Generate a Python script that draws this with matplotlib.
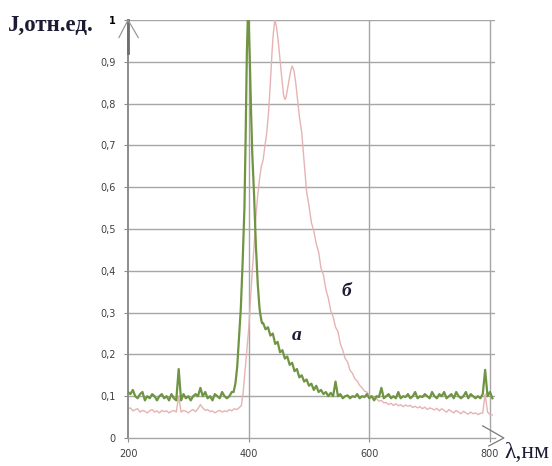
"""
Luminescence spectra a and b, normalised intensity vs wavelength.
Output: out.png
"""
import numpy as np
import matplotlib
matplotlib.use("Agg")
import matplotlib.pyplot as plt

# ---- data ------------------------------------------------------------
# curve "a" (green): flat background, narrow peak near 400 nm, slow tail
wl_a_base = np.arange(200, 373, 4)
j_a_base = [0.11, 0.105, 0.115, 0.10, 0.095, 0.105, 0.11, 0.09, 0.10, 0.095,
            0.105, 0.10, 0.09, 0.10, 0.105, 0.095, 0.10, 0.09, 0.105, 0.095,
            0.09, 0.165, 0.09, 0.105, 0.095, 0.10, 0.09, 0.10, 0.105, 0.10,
            0.12, 0.10, 0.11, 0.095, 0.10, 0.09, 0.105, 0.10, 0.095, 0.11,
            0.10, 0.095, 0.10, 0.11]
wl_a_peak = [375, 378, 381, 384, 387, 390, 393, 395, 397, 398.5,
             400, 402, 404, 406, 409, 412, 415, 418, 420, 422]
j_a_peak = [0.11, 0.13, 0.17, 0.24, 0.31, 0.42, 0.55, 0.72, 0.92, 1.0,
            1.0, 0.90, 0.78, 0.68, 0.58, 0.46, 0.37, 0.31, 0.29, 0.275]
wl_a_tail = np.arange(424, 805, 4)
j_a_tail = [0.275, 0.26, 0.265, 0.245, 0.25, 0.225, 0.23, 0.205, 0.21, 0.19,
            0.195, 0.175, 0.18, 0.16, 0.165, 0.145, 0.15, 0.135, 0.14, 0.125,
            0.13, 0.115, 0.125, 0.11, 0.115, 0.105, 0.11, 0.10, 0.108, 0.10,
            0.135, 0.10, 0.105, 0.095, 0.10, 0.102, 0.095, 0.10, 0.098, 0.105,
            0.095, 0.10, 0.098, 0.105, 0.095, 0.10, 0.09, 0.10, 0.098, 0.12,
            0.095, 0.10, 0.105, 0.095, 0.10, 0.095, 0.11, 0.095, 0.10, 0.098,
            0.105, 0.095, 0.10, 0.11, 0.095, 0.10, 0.098, 0.105, 0.10, 0.095,
            0.11, 0.10, 0.095, 0.105, 0.10, 0.11, 0.095, 0.10, 0.105, 0.095,
            0.11, 0.10, 0.095, 0.10, 0.11, 0.095, 0.105, 0.10, 0.095, 0.10,
            0.095, 0.105, 0.163, 0.10, 0.11, 0.095]

# curve "b" (pink): lower background, broad double peak 444 / 472 nm
wl_b_base = np.arange(200, 389, 4)
j_b_base = [0.07, 0.072, 0.065, 0.068, 0.07, 0.062, 0.066, 0.064, 0.06, 0.065,
            0.068, 0.062, 0.065, 0.06, 0.066, 0.063, 0.065, 0.06, 0.064, 0.066,
            0.062, 0.10, 0.062, 0.066, 0.064, 0.06, 0.065, 0.068, 0.063, 0.07,
            0.08, 0.072, 0.066, 0.068, 0.063, 0.065, 0.06, 0.064, 0.066, 0.062,
            0.065, 0.063, 0.068, 0.065, 0.07, 0.068, 0.072, 0.078]
wl_b_peak = [391, 394, 397, 400, 403, 406, 409, 412, 415, 418,
             421, 424, 427, 430, 433, 436, 439, 441, 443.5, 446,
             449, 452, 455, 458, 460, 462, 465, 468, 470, 472,
             475, 478, 481, 484, 488, 492, 496, 500, 504, 508,
             512, 516, 520, 524, 528, 532, 536, 540, 544, 548,
             552, 556, 560, 564, 568, 572, 576, 580, 584, 588,
             592, 596, 600, 604, 608, 612, 616, 620, 624]
j_b_peak = [0.11, 0.16, 0.21, 0.26, 0.33, 0.40, 0.46, 0.53, 0.58, 0.62,
            0.65, 0.665, 0.70, 0.73, 0.78, 0.85, 0.93, 0.97, 1.0, 0.985,
            0.95, 0.905, 0.86, 0.82, 0.81, 0.815, 0.84, 0.865, 0.88, 0.89,
            0.88, 0.85, 0.81, 0.77, 0.73, 0.66, 0.59, 0.555, 0.515, 0.495,
            0.465, 0.445, 0.405, 0.39, 0.355, 0.335, 0.305, 0.29, 0.265, 0.255,
            0.225, 0.21, 0.19, 0.182, 0.162, 0.155, 0.142, 0.136, 0.126, 0.12,
            0.112, 0.11, 0.102, 0.10, 0.093, 0.094, 0.088, 0.09, 0.084]
wl_b_tail = np.arange(628, 805, 4)
j_b_tail = [0.085, 0.08, 0.083, 0.078, 0.082, 0.077, 0.08, 0.075, 0.079, 0.076,
            0.078, 0.073, 0.076, 0.072, 0.075, 0.07, 0.074, 0.068, 0.072, 0.07,
            0.067, 0.071, 0.065, 0.07, 0.066, 0.062, 0.068, 0.064, 0.06, 0.066,
            0.062, 0.058, 0.064, 0.06, 0.057, 0.062, 0.058, 0.06, 0.056, 0.059,
            0.06, 0.105, 0.062, 0.056, 0.055]

wl_a = np.concatenate([wl_a_base, wl_a_peak, wl_a_tail])
j_a = np.concatenate([j_a_base, j_a_peak, j_a_tail])
wl_b = np.concatenate([wl_b_base, wl_b_peak, wl_b_tail])
j_b = np.concatenate([j_b_base, j_b_peak, j_b_tail])

x_ticks = [200, 400, 600, 800]
y_ticks = [0, 0.1, 0.2, 0.3, 0.4, 0.5, 0.6, 0.7, 0.8, 0.9, 1.0]
y_labels = ["0", "0,1", "0,2", "0,3", "0,4", "0,5", "0,6", "0,7", "0,8", "0,9", "1"]

GREEN = "#6f9442"
PINK = "#e6b3b3"
GRID = "#a6a6a6"
TEXT = "#1b1b33"

# ---- figure -----------------------------------------------------------
fig = plt.figure(figsize=(5.52, 4.66), dpi=100)
ax = fig.add_axes([128 / 552, 1 - 438 / 466, (494.8 - 128) / 552, (438 - 20) / 466])
ax.set_xlim(200, 808)
ax.set_ylim(0, 1)

for y in y_ticks[1:]:
    ax.axhline(y, color=GRID, lw=1.0, zorder=1)
for x in x_ticks[1:]:
    ax.axvline(x, color=GRID, lw=1.0, zorder=1)

ax.plot(wl_b, j_b, color=PINK, lw=1.0, zorder=2)
ax.plot(wl_a, j_a, color=GREEN, lw=1.6, zorder=3)

for side in ("top", "right"):
    ax.spines[side].set_visible(False)
ax.spines["left"].set_color("#8c8c8c")
ax.spines["left"].set_linewidth(1.4)
ax.spines["bottom"].set_color(GRID)
ax.spines["bottom"].set_linewidth(1.0)

ax.set_xticks(x_ticks)
ax.set_xticklabels([str(v) for v in x_ticks])
ax.set_yticks(y_ticks)
ax.set_yticklabels(y_labels)
ax.tick_params(axis="both", length=3, width=0.8, color="#8c8c8c",
               labelsize=7, labelcolor="#404040")
ax.tick_params(axis="y", pad=6)
ax.tick_params(axis="x", pad=5)
ax.get_yticklabels()[-1].set_fontweight("bold")
ax.get_yticklabels()[-1].set_color("black")

# axis arrows
ax.plot([200, 200], [0.92, 1.0], color="#6e6e6e", lw=2.0, clip_on=False, zorder=5)
ax.plot([185, 200, 217], [0.958, 1.0, 0.958], color="#9a9a9a", lw=0.9,
        clip_on=False, zorder=5)
ax.plot([788, 823, 798], [0.029, 0.0, -0.019], color="#7a7a7a", lw=0.9,
        clip_on=False, zorder=5)

# labels
fig.text(8 / 552, 1 - 25 / 466, "J,отн.ед.", family="Liberation Serif",
         fontsize=16.5, fontweight="bold", color=TEXT, ha="left", va="center")
fig.text(504 / 552, 1 - 452 / 466, "λ,нм", family="Liberation Serif",
         fontsize=17, color=TEXT, ha="left", va="center")
ax.text(480, 0.245, "а", family="Liberation Serif", fontsize=14,
        fontweight="bold", style="italic", color=TEXT, ha="center", va="center")
ax.text(562, 0.35, "б", family="Liberation Serif", fontsize=14,
        fontweight="bold", style="italic", color=TEXT, ha="center", va="center")

fig.savefig("out.png", dpi=100)
plt.close(fig)
